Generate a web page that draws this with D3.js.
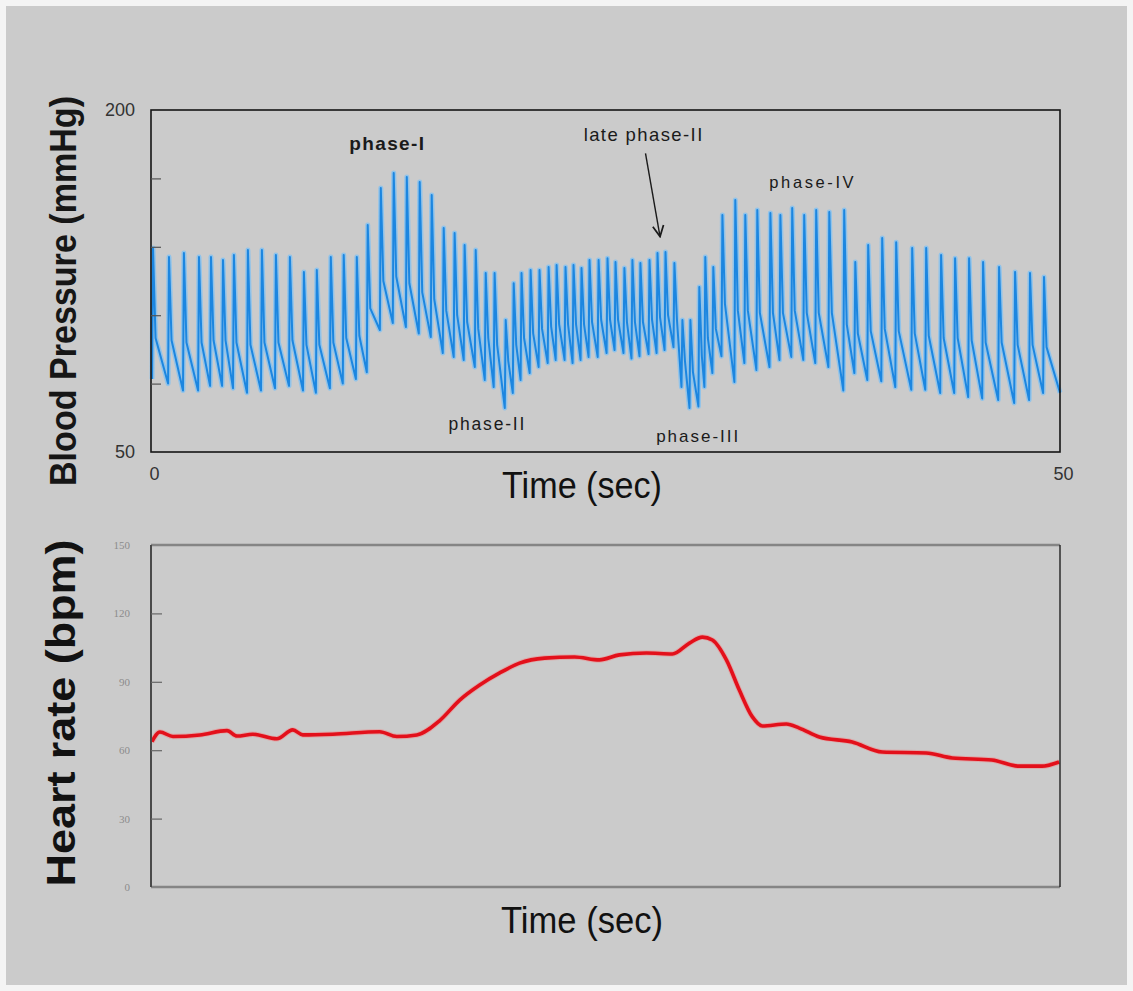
<!DOCTYPE html>
<html>
<head>
<meta charset="utf-8">
<script src="https://cdn.jsdelivr.net/npm/d3@7"></script>
<style>
  body { margin: 0; background: #ffffff; }
  text { font-family: "Liberation Sans", Arial, sans-serif; }
</style>
</head>
<body>
<div id="canvas"></div>
<script>
var w = 1133;
var h = 991;

//BLOOD PRESSURE BEATS: TIME OF EACH SYSTOLIC PEAK (sec), PEAK, DICROTIC NOTCH AND TROUGH BEFORE THE BEAT (mmHg)
const beatTime = [
  0.11, 0.99, 1.81, 2.64, 3.30, 3.96, 4.56, 5.33, 6.10, 6.87, 7.64, 8.41, 9.12, 9.89, 10.60, 11.32,
  11.92, 12.64, 13.35, 14.07, 14.78, 15.44, 16.10, 16.70, 17.25, 17.86, 18.41, 18.90, 19.51, 19.95,
  20.38, 20.88, 21.37, 21.87, 22.31, 22.80, 23.24, 23.68, 24.12, 24.62, 25.11,
  25.55, 26.04, 26.48, 26.92, 27.42, 27.86, 28.30, 28.79, 29.23, 29.67, 30.16, 30.49, 30.93, 31.43,
  32.14, 32.69, 33.35, 34.07, 34.62, 35.27, 35.93, 36.59, 37.31,
  38.13, 38.74, 39.45, 40.22, 40.99, 41.87, 42.64, 43.46, 44.23, 45.00, 45.77, 46.65, 47.53, 48.35, 49.12
];
const systolic = [
  139.5, 135.5, 137.3, 135.5, 135.5, 134.2, 136.4, 138.6, 138.6, 136.4, 135.5, 128.9, 129.8, 135.5, 136.4, 135.5,
  149.6, 165.8, 172.4, 170.6, 168.4, 162.7, 148.2, 146.0, 140.8, 138.6, 128.5, 128.5, 107.9, 124.0,
  128.5, 129.8, 129.8, 131.1, 132.0, 131.1, 132.0, 130.7, 134.2, 134.2, 135.0,
  133.3, 130.7, 134.2, 132.9, 134.2, 137.3, 137.7, 132.9, 107.9, 107.9, 122.4, 135.5, 131.1, 153.9,
  160.5, 153.9, 156.1, 154.8, 153.9, 157.0, 153.9, 156.1, 155.3,
  156.1, 133.3, 140.8, 143.9, 142.0, 139.5, 139.5, 136.4, 135.0, 135.0, 133.3, 131.1, 129.0, 128.5, 126.8
];
const notch = [
  100, 99, 98, 98, 99, 99, 98, 97, 98, 98, 99, 97, 97, 98, 100, 101,
  113, 125, 127, 124, 120, 117, 112, 110, 107, 104, 100, 97, 90, 97,
  100, 102, 104, 105, 106, 106, 106, 106, 107, 108, 108,
  108, 107, 107, 107, 108, 109, 110, 108, 90, 85, 92, 100, 104, 115,
  112, 112, 111, 111, 111, 112, 111, 111, 111,
  106, 102, 103, 104, 103, 102, 101, 100, 100, 99, 98, 98, 97, 97, 96
];
const diastolic = [
  82, 80, 77, 77, 79, 79, 78, 76, 77, 78, 79, 77, 76, 78, 80, 82,
  85, 103.5, 106.6, 104.8, 102, 100.4, 93.4, 91.7, 90.4, 87.3, 81.6, 78.5, 69.3, 75.9,
  81.6, 84.6, 87.3, 89, 90.4, 90.4, 89, 90.4, 91.7, 91.7, 93.4,
  94.7, 93.4, 91, 92, 93, 93.4, 94.7, 96, 78.5, 69.3, 70, 78.5, 84.6, 92,
  80.7, 89, 86, 87.3, 90.4, 91.7, 90.4, 89, 87.3,
  77, 84.6, 81.6, 81, 78.5, 77.3, 77.3, 75.9, 75.9, 74.1, 73.5, 72.8, 71.5, 72.8, 75.9
];
const bpEnd = 76;

//HEART RATE TRACE
const hrTime = [0.05, 0.49, 1.21, 2.69, 4.18, 4.73, 5.60, 6.92, 7.80, 8.35, 10.0, 12.58, 13.52, 14.62,
  15.88, 16.98, 18.08, 19.18, 20.27, 21.65, 23.30, 24.67, 25.77, 27.25, 28.68, 29.62, 30.33, 30.88,
  31.65, 32.36, 33.08, 33.63, 34.95, 35.66, 36.76, 38.57, 40.22, 42.64, 44.07, 46.26, 47.75, 49.01, 49.95];
const hrValue = [63.7, 68, 66, 66.7, 68.6, 66.2, 67, 65, 68.9, 66.7, 67, 68.1, 66, 66.7,
  73, 82, 88.6, 93.9, 98.2, 100.4, 100.9, 99.6, 101.8, 102.6, 102.2, 107, 109.6, 108.3,
  99.6, 86.4, 74.6, 70.6, 71.5, 69.7, 65.8, 63.6, 59.2, 58.8, 56.6, 55.7, 53, 53, 54.8];

//AXIS TICKS AND LABELS
const bpLabelTicks = [50, 200];
const bpInnerTicks = [80, 110, 140, 170];
const timeLabelTicks = [0, 50];
const hrLabelTicks = [0, 30, 60, 90, 120, 150];
const hrInnerTicks = [30, 60, 90, 120];
const phaseLabels = [
  {text: "phase-I", t: 13.0, v: 182.5, bold: true, size: 19, spacing: 1.4},
  {text: "late phase-II", t: 27.1, v: 186.4, bold: false, size: 18.5, spacing: 1.4},
  {text: "phase-II", t: 18.5, v: 59.6, bold: false, size: 17.5, spacing: 1.8},
  {text: "phase-III", t: 30.1, v: 54.6, bold: false, size: 17, spacing: 2},
  {text: "phase-IV", t: 36.4, v: 165.8, bold: false, size: 16.5, spacing: 2.6}
];

//THIS MAKES THE CANVAS
const svg = d3.select("#canvas")
    .append("svg")
    .attr("width", w)
    .attr("height", h);

svg.append("rect")
    .attr("x", 0).attr("y", 0)
    .attr("width", w).attr("height", h)
    .style("fill", "#f4f4f4");

svg.append("rect")
    .attr("x", 6).attr("y", 6)
    .attr("width", w - 12).attr("height", h - 12)
    .style("fill", "#cbcbcb");

//SCALES
const x = d3.scaleLinear().domain([0, 50]).range([151, 1060]);
const yBP = d3.scaleLinear().domain([50, 200]).range([452, 110]);
const yHR = d3.scaleLinear().domain([0, 150]).range([887, 545]);

//TOP PANEL: BLOOD PRESSURE
let bpPoints = [];
beatTime.forEach(function(t, i){
    bpPoints.push([t - 0.05, diastolic[i]]);
    bpPoints.push([t, systolic[i]]);
    bpPoints.push([t + 0.14, notch[i]]);
});
bpPoints.push([50, bpEnd]);

const bpLine = d3.line()
    .x(d => x(d[0]))
    .y(d => yBP(d[1]));

svg.append("path")
    .datum(bpPoints)
    .attr("d", bpLine)
    .style("fill", "none")
    .style("stroke", "#86c2f0")
    .style("stroke-width", 5)
    .style("stroke-linejoin", "round")
    .style("opacity", 0.85);

svg.append("path")
    .datum(bpPoints)
    .attr("d", bpLine)
    .style("fill", "none")
    .style("stroke", "#1c86e0")
    .style("stroke-width", 2)
    .style("stroke-linejoin", "round");

svg.append("rect")
    .attr("x", x(0)).attr("y", yBP(200))
    .attr("width", x(50) - x(0)).attr("height", yBP(50) - yBP(200))
    .style("fill", "none")
    .style("stroke", "#151515")
    .style("stroke-width", 1.6);

svg.append("g")
    .attr("transform", "translate(" + x(0) + ",0)")
    .call(d3.axisRight(yBP).tickValues(bpInnerTicks).tickSize(10).tickFormat(""))
    .call(g => g.select(".domain").remove())
    .call(g => g.selectAll("line").style("stroke", "#555").style("stroke-width", 1.2));

svg.append("g")
    .attr("transform", "translate(" + x(0) + ",0)")
    .call(d3.axisLeft(yBP).tickValues(bpLabelTicks).tickSize(0).tickPadding(16))
    .call(g => g.select(".domain").remove())
    .call(g => g.selectAll("text").style("font-size", "18px").style("fill", "#333")
        .style("font-family", "'Liberation Sans', Arial, sans-serif"));

svg.append("g")
    .attr("transform", "translate(0," + yBP(50) + ")")
    .call(d3.axisBottom(x).tickValues(timeLabelTicks).tickSize(0).tickPadding(15))
    .call(g => g.select(".domain").remove())
    .call(g => g.selectAll("text").style("font-size", "18px").style("fill", "#333")
        .attr("dx", 3)
        .style("font-family", "'Liberation Sans', Arial, sans-serif"));

//PHASE LABELS
phaseLabels.forEach(function(p){
    svg.append("text")
        .attr("x", x(p.t))
        .attr("y", yBP(p.v))
        .attr("text-anchor", "middle")
        .style("font-size", p.size + "px")
        .style("font-weight", p.bold ? "bold" : "normal")
        .style("letter-spacing", p.spacing + "px")
        .style("fill", "#1a1a1a")
        .text(p.text);
});

//ARROW FOR LATE PHASE-II
svg.append("defs").append("marker")
    .attr("id", "arrow")
    .attr("viewBox", "0 0 12 12")
    .attr("refX", 11).attr("refY", 6)
    .attr("markerWidth", 13).attr("markerHeight", 13)
    .attr("markerUnits", "userSpaceOnUse")
    .attr("orient", "auto")
    .append("path")
    .attr("d", "M1,1 L11,6 L1,11")
    .style("fill", "none")
    .style("stroke", "#1a1a1a")
    .style("stroke-width", 1.6);

svg.append("line")
    .attr("x1", x(27.2)).attr("y1", yBP(181))
    .attr("x2", x(28.0)).attr("y2", yBP(144.5))
    .style("stroke", "#1a1a1a")
    .style("stroke-width", 1.4)
    .attr("marker-end", "url(#arrow)");

svg.append("text")
    .attr("transform", "translate(76,291) rotate(-90)")
    .attr("text-anchor", "middle")
    .attr("textLength", 390)
    .attr("lengthAdjust", "spacingAndGlyphs")
    .style("font-size", "37px")
    .style("font-weight", "bold")
    .style("fill", "#161616")
    .text("Blood Pressure (mmHg)");

svg.append("text")
    .attr("x", 582)
    .attr("y", 498)
    .attr("text-anchor", "middle")
    .attr("textLength", 160)
    .attr("lengthAdjust", "spacingAndGlyphs")
    .style("font-size", "37px")
    .style("fill", "#111")
    .text("Time (sec)");

//BOTTOM PANEL: HEART RATE
const hrLine = d3.line()
    .x((d, i) => x(hrTime[i]))
    .y(d => yHR(d))
    .curve(d3.curveMonotoneX);

svg.append("path")
    .datum(hrValue)
    .attr("d", hrLine)
    .style("fill", "none")
    .style("stroke", "#f08a8a")
    .style("stroke-width", 5.5)
    .style("opacity", 0.5);

svg.append("path")
    .datum(hrValue)
    .attr("d", hrLine)
    .style("fill", "none")
    .style("stroke", "#e3101b")
    .style("stroke-width", 3.6)
    .style("stroke-linejoin", "round");

//FRAME: GREY TOP AND BOTTOM, DARK SIDES
svg.append("line")
    .attr("x1", x(0)).attr("x2", x(50))
    .attr("y1", yHR(150)).attr("y2", yHR(150))
    .style("stroke", "#858585").style("stroke-width", 2.6);
svg.append("line")
    .attr("x1", x(0)).attr("x2", x(50))
    .attr("y1", yHR(0)).attr("y2", yHR(0))
    .style("stroke", "#858585").style("stroke-width", 2.6);
svg.append("line")
    .attr("x1", x(0)).attr("x2", x(0))
    .attr("y1", yHR(150)).attr("y2", yHR(0))
    .style("stroke", "#4a4a4a").style("stroke-width", 2);
svg.append("line")
    .attr("x1", x(50)).attr("x2", x(50))
    .attr("y1", yHR(150)).attr("y2", yHR(0))
    .style("stroke", "#222").style("stroke-width", 1.4);

svg.append("g")
    .attr("transform", "translate(" + x(0) + ",0)")
    .call(d3.axisRight(yHR).tickValues(hrInnerTicks).tickSize(11).tickFormat(""))
    .call(g => g.select(".domain").remove())
    .call(g => g.selectAll("line").style("stroke", "#666").style("stroke-width", 1.2));

svg.append("g")
    .attr("transform", "translate(" + x(0) + ",0)")
    .call(d3.axisLeft(yHR).tickValues(hrLabelTicks).tickSize(0).tickPadding(21))
    .call(g => g.select(".domain").remove())
    .call(g => g.selectAll("text").style("font-size", "11px").style("fill", "#8c8c8c")
        .style("font-family", "'Liberation Serif', 'Times New Roman', serif"));

svg.append("text")
    .attr("transform", "translate(75," + (yHR(75) - 3) + ") rotate(-90)")
    .attr("text-anchor", "middle")
    .attr("textLength", 347)
    .attr("lengthAdjust", "spacingAndGlyphs")
    .style("font-size", "41px")
    .style("font-weight", "bold")
    .style("fill", "#121212")
    .text("Heart rate (bpm)");

svg.append("text")
    .attr("x", 582)
    .attr("y", 933)
    .attr("text-anchor", "middle")
    .attr("textLength", 162)
    .attr("lengthAdjust", "spacingAndGlyphs")
    .style("font-size", "37px")
    .style("fill", "#111")
    .text("Time (sec)");
</script>
</body>
</html>
